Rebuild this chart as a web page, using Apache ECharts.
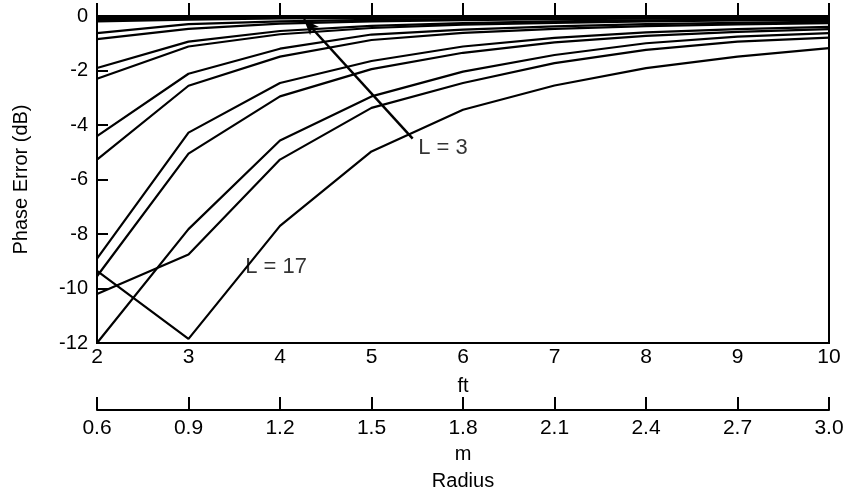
<!DOCTYPE html>
<html>
<head>
<meta charset="utf-8">
<script src="https://cdn.jsdelivr.net/npm/echarts@6/dist/echarts.min.js"></script>
<style>
html,body{margin:0;padding:0;background:#fff;}
#c{width:848px;height:496px;}
</style>
</head>
<body>
<div id="c"></div>
<script>
// radius in feet
const radiusFt = [2, 3, 4, 5, 6, 7, 8, 9, 10];
// phase error (dB) curves, one per L value (L = 3 ... L = 17)
const curveK1 = [-0.02, -0.01, -0.01, 0, 0, 0, 0, 0, 0];
const curveK2 = [-0.08, -0.05, -0.04, -0.03, -0.02, -0.02, -0.01, -0.01, -0.01];
const curveK3 = [-0.14, -0.09, -0.06, -0.05, -0.04, -0.03, -0.03, -0.02, -0.02];
const curveK4 = [-0.2, -0.13, -0.09, -0.07, -0.06, -0.05, -0.04, -0.04, -0.03];
const curveL1 = [-0.63, -0.3, -0.2, -0.14, -0.11, -0.09, -0.07, -0.06, -0.05];
const curveL2 = [-0.85, -0.47, -0.28, -0.2, -0.15, -0.12, -0.1, -0.08, -0.07];
const curveL3 = [-1.91, -0.94, -0.55, -0.36, -0.26, -0.2, -0.16, -0.13, -0.11];
const curveL4 = [-2.3, -1.12, -0.67, -0.44, -0.32, -0.25, -0.2, -0.16, -0.14];
const curveF  = [-4.41, -2.12, -1.2, -0.68, -0.5, -0.38, -0.3, -0.25, -0.21];
const curveG  = [-5.27, -2.56, -1.49, -0.88, -0.62, -0.47, -0.37, -0.31, -0.26];
const curveD  = [-8.9, -4.28, -2.46, -1.65, -1.12, -0.8, -0.6, -0.48, -0.4];
const curveE  = [-9.55, -5.05, -2.95, -1.95, -1.35, -0.97, -0.73, -0.58, -0.48];
const curveC  = [-12, -7.82, -4.57, -2.95, -2.04, -1.43, -1.0, -0.76, -0.63];
const curveB  = [-10.2, -8.75, -5.27, -3.37, -2.46, -1.73, -1.24, -0.94, -0.79];
const curveA  = [-9.35, -11.85, -7.7, -4.97, -3.44, -2.55, -1.91, -1.49, -1.18];
const curves = [curveK1, curveK2, curveK3, curveK4, curveL1, curveL2, curveL3, curveL4,
                curveF, curveG, curveD, curveE, curveC, curveB, curveA];
// axis ticks
const yTicks = [-12, -10, -8, -6, -4, -2, 0];
const metreTicks = [0.6, 0.9, 1.2, 1.5, 1.8, 2.1, 2.4, 2.7, 3.0];
// annotations (data coordinates)
const noteTexts = ['L = 3', 'L = 17'];
const notePos = [[5.51, -4.86], [3.62, -9.21]];
const arrowFrom = [5.45, -4.5];
const arrowTo = [4.26, -0.12];

const FONT = 'Liberation Sans, Arial, Helvetica, sans-serif';
const chart = echarts.init(document.getElementById('c'), null, {renderer: 'canvas'});

const lineSeries = curves.map((c, i) => ({
  type: 'line',
  xAxisIndex: 0, yAxisIndex: 0,
  data: radiusFt.map((x, j) => [x, c[j]]),
  symbol: 'none',
  lineStyle: {color: '#000', width: 2.2},
  z: 3,
  markLine: i === curves.length - 1 ? {
    silent: true,
    symbol: ['none', 'arrow'],
    symbolSize: [9, 16],
    lineStyle: {color: '#000', width: 2.5, type: 'solid'},
    label: {show: false},
    data: [[{coord: arrowFrom}, {coord: arrowTo}]]
  } : undefined
}));

chart.setOption({
  animation: false,
  backgroundColor: '#fff',
  grid: [
    {left: 97, right: 19, top: 16, bottom: 153, show: true, borderColor: '#000', borderWidth: 2},
    {left: 97, right: 19, top: 400, height: 11, show: false}
  ],
  xAxis: [
    {
      gridIndex: 0, type: 'value', min: 2, max: 10, interval: 1,
      axisLine: {lineStyle: {color: '#000', width: 2}},
      axisTick: {inside: true, length: 13, lineStyle: {color: '#000', width: 2}},
      axisLabel: {color: '#000', fontSize: 21, fontFamily: FONT, margin: 4},
      splitLine: {show: false},
      name: 'ft', nameLocation: 'middle', nameGap: 33,
      nameTextStyle: {color: '#000', fontSize: 20, fontFamily: FONT}
    },
    {
      gridIndex: 1, type: 'value', min: 0.6, max: 3.0, interval: 0.3,
      axisLine: {onZero: false, lineStyle: {color: '#000', width: 2}},
      axisTick: {inside: true, length: 13, lineStyle: {color: '#000', width: 2}},
      axisLabel: {color: '#000', fontSize: 21, fontFamily: FONT, margin: 8,
        formatter: v => v.toFixed(1)},
      splitLine: {show: false},
      name: 'm\nRadius', nameLocation: 'middle', nameGap: 31,
      nameTextStyle: {color: '#000', fontSize: 20, fontFamily: FONT, lineHeight: 27}
    }
  ],
  yAxis: [
    {
      gridIndex: 0, type: 'value', min: -12, max: 0, interval: 2,
      axisLine: {lineStyle: {color: '#000', width: 2}},
      axisTick: {inside: true, length: 11, lineStyle: {color: '#000', width: 2}},
      axisLabel: {color: '#000', fontSize: 20, fontFamily: FONT, margin: 9},
      splitLine: {show: false},
      name: 'Phase Error (dB)', nameLocation: 'middle', nameGap: 66, nameRotate: 90,
      nameTextStyle: {color: '#000', fontSize: 20, fontFamily: FONT}
    },
    {gridIndex: 1, type: 'value', show: false, min: 0, max: 1}
  ],
  series: lineSeries.concat([
    {
      type: 'scatter', xAxisIndex: 0, yAxisIndex: 0,
      symbolSize: 1, itemStyle: {color: 'rgba(0,0,0,0)'},
      data: notePos.map((p, i) => ({value: p, name: noteTexts[i]})),
      label: {show: true, position: 'inside', align: 'left', verticalAlign: 'middle',
        formatter: p => p.name, color: '#000', fontSize: 22, fontFamily: FONT},
      z: 5
    },
    {
      type: 'line', xAxisIndex: 1, yAxisIndex: 1, data: [], symbol: 'none'
    }
  ])
});
</script>
</body>
</html>
